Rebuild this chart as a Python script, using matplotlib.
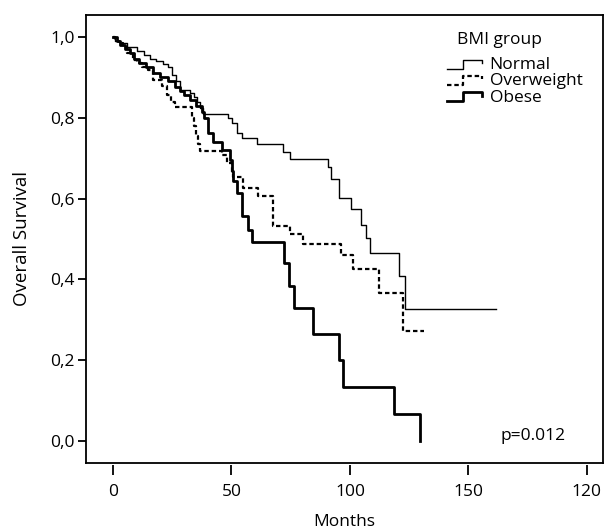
import matplotlib
matplotlib.use("Agg")
import matplotlib.pyplot as plt
from matplotlib.lines import Line2D
from matplotlib.legend_handler import HandlerLine2D

plt.rcParams['font.family'] = ['Open Sans', 'DejaVu Sans']

# ---- data ----
groups = ["Normal", "Overweight", "Obese"]

normal_t = [0, 1, 3, 6, 10, 13, 15.6, 18, 21, 23.2, 24.8, 26.5, 28.3, 32.5, 34, 35.5, 36.7, 38,
            48.4, 50.3, 52.2, 54.3, 60.6, 71.6, 74.7, 90.6, 91.9, 95.4, 100.3, 104.5, 106.8,
            108.4, 120.7, 123.2, 161.6]
normal_s = [1.0, 0.99, 0.985, 0.975, 0.965, 0.955, 0.946, 0.94, 0.933, 0.926, 0.906, 0.89, 0.869,
            0.861, 0.85, 0.838, 0.824, 0.809, 0.799, 0.787, 0.762, 0.750, 0.734, 0.716, 0.698,
            0.677, 0.648, 0.601, 0.573, 0.535, 0.503, 0.466, 0.409, 0.327, 0.327]

over_t = [0, 1, 2.5, 4.2, 6, 8.4, 10, 12.1, 14.8, 16.9, 20.5, 22.7, 24.5, 26.2, 33.2, 34.2, 35.2,
          36, 36.7, 45.9, 48, 50.1, 50.8, 55, 61.3, 67.6, 74.7, 80.3, 96.1, 101.4, 112.4, 122.5,
          131.4]
over_s = [1.0, 0.99, 0.985, 0.975, 0.96, 0.943, 0.935, 0.926, 0.918, 0.894, 0.879, 0.856, 0.84,
          0.827, 0.80, 0.78, 0.755, 0.735, 0.717, 0.708, 0.688, 0.666, 0.654, 0.625, 0.607, 0.531,
          0.513, 0.488, 0.460, 0.425, 0.366, 0.273, 0.273]

obese_t = [0, 1.5, 3, 5, 7, 9, 11, 14, 17, 20, 23, 26, 28.3, 30, 32.5, 35, 37.4, 38.5, 40, 42,
           46.2, 49.4, 50.1, 50.8, 52.2, 54.3, 57.1, 58.5, 72.2, 74.3, 76.4, 84.5, 95.5, 97.2,
           118.6, 129.5]
obese_s = [1.0, 0.99, 0.98, 0.97, 0.96, 0.945, 0.935, 0.925, 0.91, 0.9, 0.89, 0.875, 0.865, 0.855,
           0.844, 0.83, 0.815, 0.8, 0.762, 0.741, 0.72, 0.696, 0.667, 0.643, 0.614, 0.556, 0.523,
           0.492, 0.44, 0.383, 0.329, 0.264, 0.2, 0.133, 0.067, 0.0]

x_ticks = [0, 50, 100, 150, 200]
x_tick_labels = ["0", "50", "100", "150", "120"]
y_ticks = [0.0, 0.2, 0.4, 0.6, 0.8, 1.0]
y_tick_labels = ["0,0", "0,2", "0,4", "0,6", "0,8", "1,0"]
legend_title = "BMI group"
p_text = "p=0.012"

FS = 12.5
W, H = 611, 529


class StepHandler(HandlerLine2D):
    def create_artists(self, legend, orig_handle, xdescent, ydescent, width, height, fontsize, trans):
        x0 = -xdescent
        lo = -ydescent + height * 0.05
        hi = -ydescent + height * 0.75
        mid = -ydescent + height * 0.5
        xs = [x0, x0 + 0.45 * width, x0 + 0.45 * width, x0 + width, x0 + width]
        ys = [lo, lo, hi, hi, mid]
        ln = Line2D(xs, ys)
        self.update_prop(ln, orig_handle, legend)
        ln.set_transform(trans)
        return [ln]


fig = plt.figure(figsize=(W / 100, H / 100), dpi=100)
ax = fig.add_axes([86 / W, 1 - 463 / H, (603 - 86) / W, (463 - 15) / H])

h1, = ax.step(normal_t, normal_s, where='post', color='black', lw=1.0, label=groups[0])
h2, = ax.step(over_t, over_s, where='post', color='black', lw=1.6, linestyle=(0, (2.0, 1.3)),
              label=groups[1])
h3, = ax.step(obese_t, obese_s, where='post', color='black', lw=2.0, label=groups[2])

ax.set_xlim(-11.4, 206.8)
ax.set_ylim(-0.054, 1.054)

for s in ax.spines.values():
    s.set_linewidth(1.3)

ax.set_yticks(y_ticks)
ax.set_yticklabels(y_tick_labels)
ax.tick_params(axis='y', direction='out', length=6, width=1.3, labelsize=FS, pad=2)
ax.tick_params(axis='x', bottom=False, labelbottom=False)
ax.set_ylabel("Overall Survival", fontsize=13.5, labelpad=14)

sec = ax.secondary_xaxis(-0.005)
sec.spines['bottom'].set_visible(False)
sec.set_xticks(x_ticks)
sec.set_xticklabels(x_tick_labels)
sec.tick_params(axis='x', direction='out', length=7.5, width=1.3, labelsize=FS, pad=6)
sec.set_xlabel("Months", fontsize=FS, labelpad=10)

fig.text(457 / W, 1 - 40 / H, legend_title, fontsize=FS, ha='left', va='center')

leg = ax.legend(handles=[h1, h2, h3], loc='upper left',
                bbox_to_anchor=((435 - 86) / (603 - 86), 1 - (45 - 15) / 448),
                frameon=False, fontsize=FS, handlelength=2.0,
                handletextpad=0.45, labelspacing=0.0, borderpad=0.2,
                handler_map={Line2D: StepHandler()})

ax.text(500 / W, 1 - 436 / H, p_text, transform=fig.transFigure, fontsize=FS,
        ha='left', va='center')

fig.savefig("out.png", dpi=100)
